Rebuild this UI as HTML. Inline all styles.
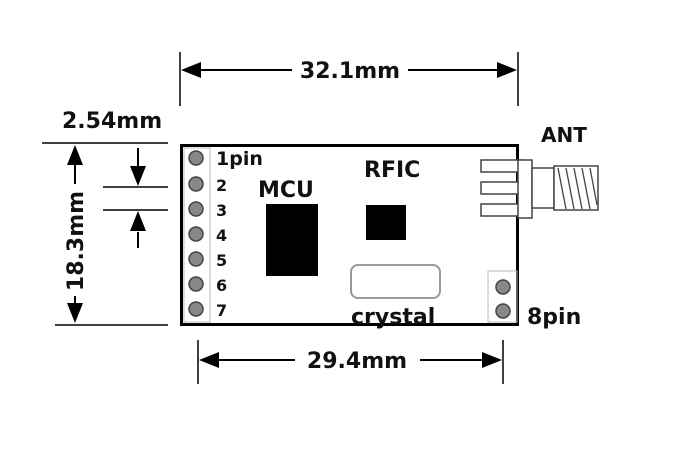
<!DOCTYPE html><html><head><style>body{margin:0;background:#fff}svg text{font-family:"DejaVu Sans","Liberation Sans",sans-serif;font-weight:bold;fill:#111}</style></head><body>
<svg width="700" height="452" viewBox="0 0 700 452" xmlns="http://www.w3.org/2000/svg">
<g stroke="#000" stroke-width="1.5" fill="none">
<line x1="180" y1="52" x2="180" y2="106"/><line x1="518" y1="52" x2="518" y2="106"/>
<line x1="198" y1="340" x2="198" y2="384"/><line x1="503" y1="340" x2="503" y2="384"/>
<line x1="42" y1="143" x2="168" y2="143"/><line x1="55" y1="325" x2="168" y2="325"/>
<line x1="103" y1="187" x2="168" y2="187"/><line x1="103" y1="210" x2="168" y2="210"/>
</g>
<g stroke="#000" stroke-width="2">
<line x1="200" y1="70" x2="292" y2="70"/><line x1="408" y1="70" x2="498" y2="70"/>
<line x1="218" y1="360" x2="295" y2="360"/><line x1="420" y1="360" x2="483" y2="360"/>
<line x1="75" y1="165" x2="75" y2="184"/><line x1="75" y1="296" x2="75" y2="303"/>
<line x1="138" y1="148" x2="138" y2="166"/><line x1="138" y1="232" x2="138" y2="248"/>
</g>
<g fill="#000">
<path d="M181,70l20,-8v16z"/><path d="M517,70l-20,-8v16z"/>
<path d="M199,360l20,-8v16z"/><path d="M502,360l-20,-8v16z"/>
<path d="M75,145l-8,20h16z"/><path d="M75,323l-8,-20h16z"/>
<path d="M138,186l-8,-20h16z"/><path d="M138,211l-8,20h16z"/>
</g>
<text x="350" y="78" font-size="22" text-anchor="middle">32.1mm</text>
<text x="357" y="368" font-size="22" text-anchor="middle">29.4mm</text>
<text x="62" y="128" font-size="22">2.54mm</text>
<text transform="translate(83,241) rotate(-90)" font-size="22" text-anchor="middle">18.3mm</text>
<rect x="181.5" y="145.5" width="336" height="179" fill="none" stroke="#000" stroke-width="3"/>
<rect x="184" y="148" width="26" height="174" fill="none" stroke="#bbb" stroke-width="1"/>
<g fill="#888" stroke="#444" stroke-width="1.5">
<circle cx="196" cy="158" r="7"/><circle cx="196" cy="184" r="7"/><circle cx="196" cy="209" r="7"/><circle cx="196" cy="234" r="7"/><circle cx="196" cy="259" r="7"/><circle cx="196" cy="284" r="7"/><circle cx="196" cy="309" r="7"/>
<circle cx="503" cy="287" r="7"/><circle cx="503" cy="311" r="7"/></g>
<rect x="488" y="271" width="29" height="51" fill="none" stroke="#bbb"/>
<text x="216" y="165" font-size="19">1pin</text>
<g font-size="16"><text x="216" y="191">2</text><text x="216" y="216">3</text><text x="216" y="241">4</text><text x="216" y="266">5</text><text x="216" y="291">6</text><text x="216" y="316">7</text></g>
<text x="258" y="197" font-size="22">MCU</text>
<text x="364" y="177" font-size="22">RFIC</text>
<text x="351" y="324" font-size="22">crystal</text>
<text x="527" y="324" font-size="22">8pin</text>
<text x="541" y="142" font-size="20">ANT</text>
<rect x="266" y="204" width="52" height="72" fill="#000"/>
<rect x="366" y="205" width="40" height="35" fill="#000"/>
<rect x="351" y="265" width="89" height="33" rx="7" fill="none" stroke="#999" stroke-width="2"/>
<g fill="#fff" stroke="#444" stroke-width="1.5">
<rect x="481" y="160" width="40" height="12"/><rect x="481" y="182" width="40" height="12"/><rect x="481" y="204" width="40" height="12"/>
<rect x="518" y="160" width="14" height="58"/>
<rect x="532" y="168" width="22" height="40"/>
<rect x="554" y="166" width="44" height="44"/>
</g>
<g stroke="#444" stroke-width="1.3">
<line x1="558" y1="168" x2="566" y2="209"/><line x1="566" y1="168" x2="574" y2="209"/><line x1="574" y1="168" x2="582" y2="209"/><line x1="582" y1="168" x2="590" y2="209"/><line x1="590" y1="168" x2="597" y2="205"/>
</g>
</svg></body></html>
